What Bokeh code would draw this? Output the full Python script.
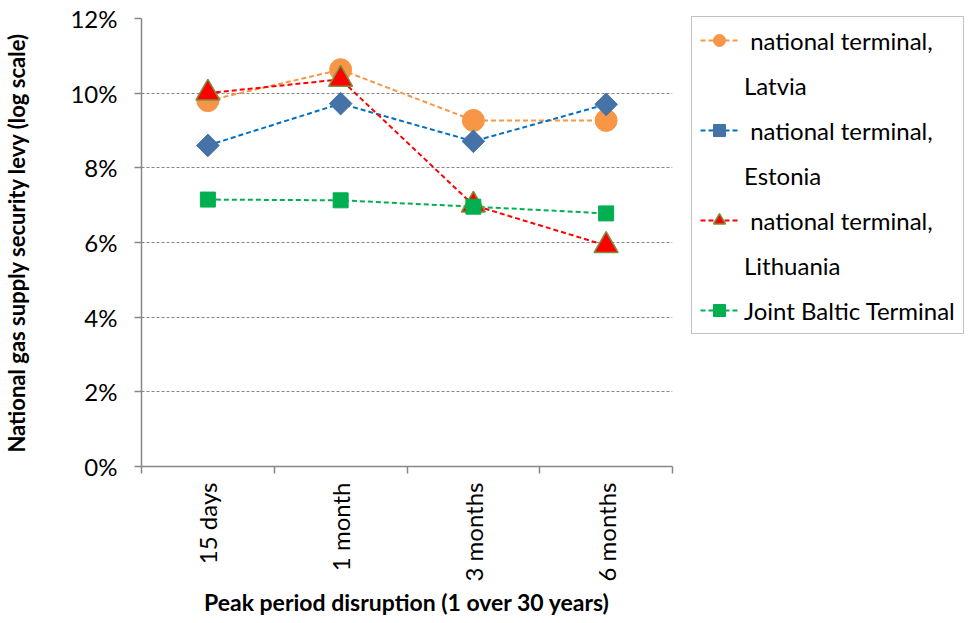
from math import pi
from bokeh.plotting import figure
from bokeh.models import Legend, LegendItem, FixedTicker, NumeralTickFormatter, Range1d
from bokeh.embed import file_html
from bokeh.resources import INLINE

categories = ["15 days", "1 month", "3 months", "6 months"]
latvia = [0.0980, 0.1063, 0.0927, 0.0927]
estonia = [0.0860, 0.0972, 0.0871, 0.0970]
lithuania = [0.1000, 0.1037, 0.0700, 0.0592]
joint = [0.0715, 0.0713, 0.0696, 0.0678]
y_ticks = [0.0, 0.02, 0.04, 0.06, 0.08, 0.10, 0.12]
# legend labels: first line carries the marker, second line (if any) wraps below it
label_lines = [[" national terminal,", "Latvia"],
               [" national terminal,", "Estonia"],
               [" national terminal,", "Lithuania"],
               ["Joint Baltic Terminal"]]

FONT = "Lato"
xs = [i + 0.5 for i in range(len(categories))]
bounds = [float(i) for i in range(len(categories) + 1)]

p = figure(frame_width=531, frame_height=448, output_backend="svg", toolbar_location=None,
           x_range=Range1d(0, len(categories)), y_range=Range1d(0, 0.12),
           min_border_left=130, min_border_right=10, min_border_top=18,
           min_border_bottom=141)
p.outline_line_color = None
p.background_fill_color = "white"
p.border_fill_color = "white"

# axes
p.xaxis.ticker = FixedTicker(ticks=xs, minor_ticks=bounds)
p.xaxis.major_label_overrides = {x: c for x, c in zip(xs, categories)}
p.xaxis.major_label_orientation = pi / 2
p.xaxis.major_tick_out = 0
p.xaxis.major_tick_in = 0
p.xaxis.minor_tick_out = 7
p.xaxis.minor_tick_in = 0
p.xaxis.major_label_standoff = 9
p.xaxis.axis_label = "Peak period disruption (1 over 30 years)"
p.xaxis.axis_label_standoff = 3

p.yaxis.ticker = FixedTicker(ticks=y_ticks)
p.yaxis.formatter = NumeralTickFormatter(format="0%")
p.yaxis.major_tick_out = 7
p.yaxis.major_tick_in = 0
p.yaxis.minor_tick_out = 0
p.yaxis.minor_tick_in = 0
p.yaxis.major_label_standoff = 17
p.yaxis.axis_label = "National gas supply security levy (log scale)"
p.yaxis.axis_label_standoff = 37

for ax in (p.xaxis, p.yaxis):
    ax.axis_line_color = "#868686"
    ax.axis_line_width = 1.5
    ax.major_tick_line_color = "#868686"
    ax.minor_tick_line_color = "#868686"
    ax.major_tick_line_width = 1.5
    ax.minor_tick_line_width = 1.5
    ax.major_label_text_font = FONT
    ax.major_label_text_font_size = "24px"
    ax.major_label_text_color = "black"
    ax.axis_label_text_font = FONT
    ax.axis_label_text_font_style = "bold"
    ax.axis_label_text_color = "black"
p.xaxis.axis_label_text_font_size = "23px"
p.yaxis.axis_label_text_font_size = "22px"

p.xgrid.grid_line_color = None
p.ygrid.grid_line_color = "#868686"
p.ygrid.grid_line_dash = "3 2"
p.ygrid.grid_line_width = 1

dash = "5 3"

l1 = p.line(xs, latvia, line_color="#F79646", line_width=2, line_dash=dash)
l2 = p.line(xs, estonia, line_color="#0070C0", line_width=2, line_dash=dash)
l3 = p.line(xs, lithuania, line_color="#FF0000", line_width=2, line_dash=dash)
l4 = p.line(xs, joint, line_color="#00B050", line_width=2, line_dash=dash)

s1 = p.scatter(xs, latvia, marker="circle", size=22, fill_color="#F79646", line_color="#F79646")
s2 = p.scatter(xs, estonia, marker="square", angle=pi / 4, size=16,
               fill_color="#4572A7", line_color="#4572A7")
s3 = p.scatter(xs, lithuania, marker="triangle", size=24, fill_color="#FF0000",
               line_color="#77933C", line_width=1.5)
s4 = p.scatter(xs, joint, marker="square", size=15, fill_color="#00B050", line_color="#00B050")

items = []
for lines, lr, sr in zip(label_lines, [l1, l2, l3, l4], [s1, s2, s3, s4]):
    items.append(LegendItem(label=lines[0], renderers=[lr, sr]))
    for extra in lines[1:]:
        items.append(LegendItem(label=extra, renderers=[]))

legend = Legend(items=items, location=(19, 132))
legend.label_text_font = FONT
legend.label_text_font_size = "24px"
legend.label_text_color = "black"
legend.glyph_width = 38
legend.glyph_height = 30
legend.label_height = 30
legend.label_standoff = 6
legend.spacing = 15
legend.padding = 8
legend.margin = 10
legend.border_line_color = "#868686"
legend.border_line_width = 1
legend.background_fill_color = "white"
legend.background_fill_alpha = 1
p.add_layout(legend, "right")

open("out.html", "w").write(file_html(p, INLINE))
